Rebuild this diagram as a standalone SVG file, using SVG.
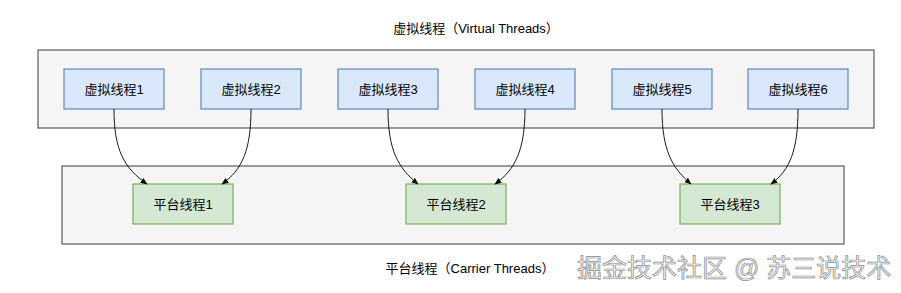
<svg xmlns="http://www.w3.org/2000/svg" width="901" height="293" viewBox="0 0 901 293">
<style>
text{font-family:"Liberation Sans","Noto Sans CJK SC",sans-serif;font-size:13px;fill:#000;text-anchor:middle;dominant-baseline:central}
.outer{fill:#f5f5f5;stroke:#666;stroke-width:1.3}
.v{fill:#dae8fc;stroke:#6c8ebf;stroke-width:1.3}
.p{fill:#d5e8d4;stroke:#82b366;stroke-width:1.3}
.e{fill:none;stroke:#000;stroke-width:0.9}
.wm{font-size:25px;fill:#f2f2f2;stroke:#8a8a8a;stroke-width:0.7;text-anchor:start}
</style>
<defs>
<marker id="ah" viewBox="0 0 10 10" refX="9" refY="5" markerWidth="7" markerHeight="7" orient="auto" markerUnits="userSpaceOnUse">
<path d="M0 1 L10 5 L0 9 Z" fill="#000"/>
</marker>
</defs>
<rect width="901" height="293" fill="#fff"/>
<g id="virtual-group">
<rect class="outer" x="38" y="50" width="836" height="78"/>
<text x="476" y="28">虚拟线程（Virtual Threads）</text>
</g>
<g id="platform-group">
<rect class="outer" x="62" y="166" width="782" height="78"/>
<text x="470" y="268">平台线程（Carrier Threads）</text>
</g>
<g id="v1"><rect class="v" x="64" y="69" width="100" height="40"/><text x="114" y="89">虚拟线程1</text></g>
<g id="v2"><rect class="v" x="201" y="69" width="100" height="40"/><text x="251" y="89">虚拟线程2</text></g>
<g id="v3"><rect class="v" x="338" y="69" width="100" height="40"/><text x="388" y="89">虚拟线程3</text></g>
<g id="v4"><rect class="v" x="475" y="69" width="100" height="40"/><text x="525" y="89">虚拟线程4</text></g>
<g id="v5"><rect class="v" x="612" y="69" width="100" height="40"/><text x="662" y="89">虚拟线程5</text></g>
<g id="v6"><rect class="v" x="748" y="69" width="100" height="40"/><text x="798" y="89">虚拟线程6</text></g>
<g id="p1"><rect class="p" x="133" y="184" width="100" height="40"/><text x="183" y="204">平台线程1</text></g>
<g id="p2"><rect class="p" x="406" y="184" width="100" height="40"/><text x="456" y="204">平台线程2</text></g>
<g id="p3"><rect class="p" x="680" y="184" width="100" height="40"/><text x="730" y="204">平台线程3</text></g>
<g id="connectors">
<path class="e" marker-end="url(#ah)" d="M114 109 C114 150 124 168 147 184"/>
<path class="e" marker-end="url(#ah)" d="M251 109 C251 150 242 170 222 184"/>
<path class="e" marker-end="url(#ah)" d="M388 109 C388 150 398 168 418 184"/>
<path class="e" marker-end="url(#ah)" d="M525 109 C525 150 515 170 495 184"/>
<path class="e" marker-end="url(#ah)" d="M662 109 C662 150 672 168 691 184"/>
<path class="e" marker-end="url(#ah)" d="M798 109 C798 150 790 170 771 184"/>
</g>
<text class="wm" x="577" y="268">掘金技术社区 @ 苏三说技术</text>
</svg>
